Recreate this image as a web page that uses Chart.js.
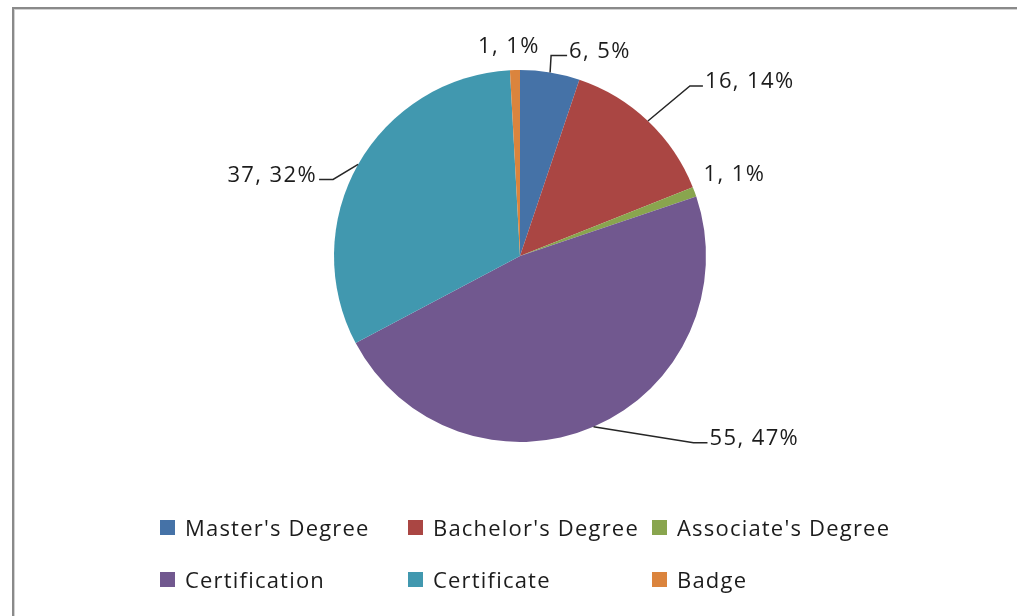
<!DOCTYPE html>
<html>
<head>
<meta charset="utf-8">
<script src="https://cdn.jsdelivr.net/npm/chart.js"></script>
<style>
    html, body { margin: 0; padding: 0; background: #fff; }
    #wrap { position: relative; width: 1017px; height: 616px; overflow: hidden; background: #fff; }
    #frame {
        position: absolute; left: 12px; top: 7px; width: 1100px; height: 700px;
        border-left: 2px solid #8a8a8a; border-top: 2px solid #8a8a8a;
        box-shadow: inset 1px 1px 0 #d2d2d2;
    }
    #pieChart { position: absolute; left: 0; top: 0; }
    #legend {
        position: absolute; left: 160px; top: 511px;
        display: grid; grid-template-columns: 248px 244px 240px; row-gap: 20px;
    }
    .item { display: flex; align-items: center; height: 32px; font: 22px "Open Sans"; letter-spacing: 1.2px; color: #1c1c1c; white-space: nowrap; }
    .box { width: 15px; height: 15px; margin-right: 10px; flex: none; }
</style>
</head>
<body>
<div id="wrap">
    <div id="frame"></div>
    <canvas id="pieChart" width="1017" height="616"></canvas>
    <div id="legend"></div>
</div>
<script>
const categories = ["Master's Degree", "Bachelor's Degree", "Associate's Degree", 'Certification', 'Certificate', 'Badge'];
const values = [6, 16, 1, 55, 37, 1];
const colors = ['#4572A7', '#AA4643', '#89A54E', '#71588F', '#4198AF', '#DB843D'];

// label placement relative to the slice edge: dx, dy, leader elbow, text align
const labelPlacement = [
    [19, -21, 16, 'left'],
    [57, -39, 13, 'left'],
    [9, -17, 0, 'left'],
    [116, 12, 14, 'left'],
    [-41, 11, 14, 'right'],
    [-6, -23, 0, 'center']
];

const total = values.reduce((a, b) => a + b, 0);

const pieLabels = {
    id: 'pieLabels',
    afterDatasetsDraw(chart) {
        const ctx = chart.ctx;
        const meta = chart.getDatasetMeta(0);
        ctx.save();
        ctx.font = '22px "Open Sans"';
        ctx.letterSpacing = '1.4px';
        ctx.fillStyle = '#1c1c1c';
        ctx.strokeStyle = '#262626';
        ctx.lineWidth = 1.5;
        ctx.textBaseline = 'middle';
        meta.data.forEach((arc, i) => {
            const p = arc.getProps(['x', 'y', 'startAngle', 'endAngle', 'outerRadius'], true);
            const mid = (p.startAngle + p.endAngle) / 2;
            const ax = p.x + Math.cos(mid) * p.outerRadius;
            const ay = p.y + Math.sin(mid) * p.outerRadius;
            const [dx, dy, elbow, align] = labelPlacement[i];
            const tx = ax + dx, ty = ay + dy;
            const dir = align === 'right' ? -1 : 1;
            if (elbow > 0) {
                const ex = tx - dir * 2, ey = ty + 4;
                ctx.beginPath();
                ctx.moveTo(ax, ay);
                ctx.lineTo(ex - dir * elbow, ey);
                ctx.lineTo(ex, ey);
                ctx.stroke();
            }
            const text = values[i] + ', ' + Math.round(values[i] / total * 100) + '%';
            ctx.textAlign = align;
            ctx.fillText(text, tx, ty);
        });
        ctx.restore();
    }
};

new Chart(document.getElementById('pieChart'), {
    type: 'pie',
    data: {
        labels: categories,
        datasets: [{
            data: values,
            backgroundColor: colors,
            borderWidth: 0
        }]
    },
    options: {
        responsive: false,
        animation: false,
        layout: { padding: { left: 334, right: 311, top: 70, bottom: 174 } },
        plugins: {
            legend: { display: false },
            tooltip: { enabled: false }
        }
    },
    plugins: [pieLabels]
});

const legend = document.getElementById('legend');
categories.forEach((name, i) => {
    const item = document.createElement('div');
    item.className = 'item';
    const box = document.createElement('span');
    box.className = 'box';
    box.style.background = colors[i];
    const label = document.createElement('span');
    label.textContent = name;
    item.appendChild(box);
    item.appendChild(label);
    legend.appendChild(item);
});
</script>
</body>
</html>
